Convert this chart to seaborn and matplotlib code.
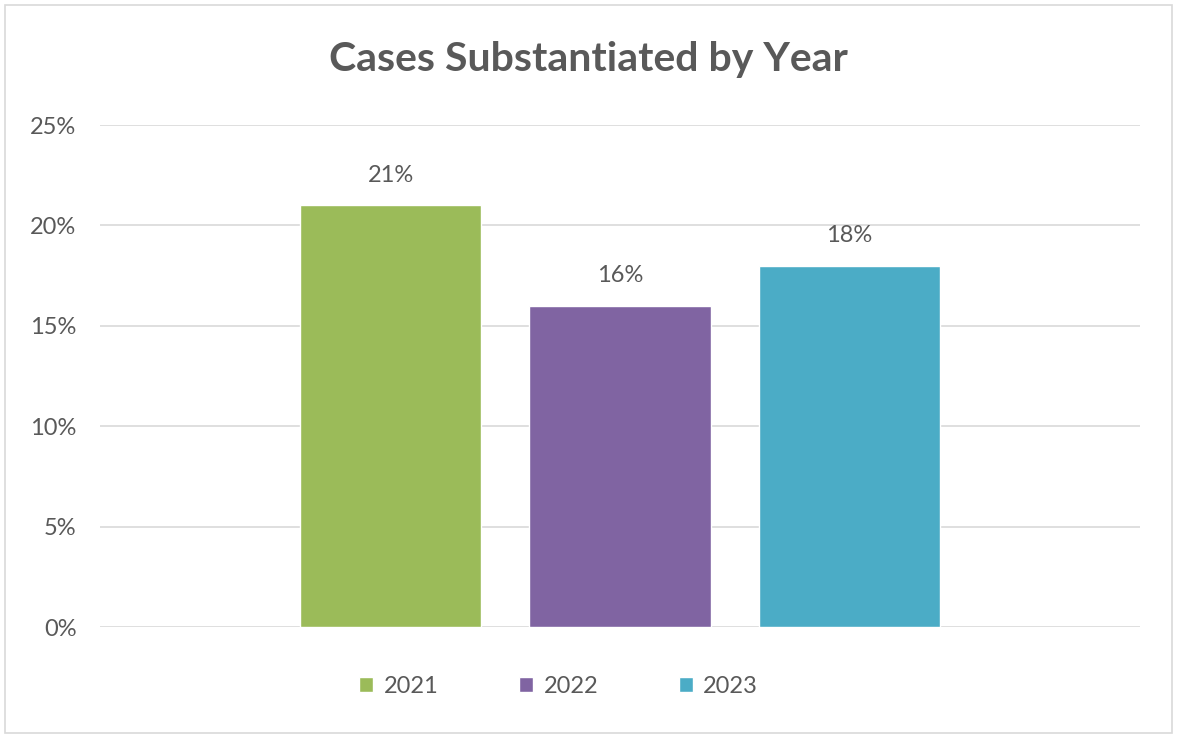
import matplotlib
matplotlib.use("Agg")
import matplotlib.pyplot as plt
import seaborn as sns
import pandas as pd
from matplotlib.patches import Rectangle
from matplotlib.ticker import PercentFormatter

categories = ["Cases"]
years = ["2021", "2022", "2023"]
values = [0.21, 0.16, 0.18]
colors = ["#9BBB59", "#8064A2", "#4BACC6"]
yticks = [0, 0.05, 0.10, 0.15, 0.20, 0.25]

df = pd.DataFrame({"cat": categories * 3, "year": years, "value": values})

sns.set_theme(style="white")
plt.rcParams["font.family"] = ["Lato", "DejaVu Sans"]
TXT = "#595959"

fig = plt.figure(figsize=(11.77, 7.36), dpi=100)
ax = fig.add_axes([100/1177, (736-627)/736, 1040/1177, (627-125)/736])

sns.barplot(data=df, x="cat", y="value", hue="year", palette=colors,
            width=0.6615, gap=0.209, ax=ax, legend=True, saturation=1)

ax.set_xlim(-0.5, 0.5)
ax.set_ylim(0, 0.25)
ax.set_yticks(yticks)
ax.yaxis.set_major_formatter(PercentFormatter(1.0, decimals=0))
ax.grid(axis="y", color="#D9D9D9", linewidth=1.2)
ax.set_axisbelow(True)
for s in ax.spines.values():
    s.set_visible(False)
ax.set_xticks([])
ax.set_xlabel("")
ax.set_ylabel("")
ax.tick_params(axis="y", length=0, pad=17, labelsize=17, labelcolor=TXT)

for cont in ax.containers:
    ax.bar_label(cont, labels=[f"{v*100:.0f}%" for v in cont.datavalues],
                 padding=14, fontsize=17, color=TXT)

leg = ax.legend(loc="upper center", bbox_to_anchor=(0.441, -0.055), ncol=3,
                frameon=False, fontsize=17, handlelength=0.6, handleheight=0.6,
                handletextpad=0.45, columnspacing=3.4, labelcolor=TXT)

fig.text(0.5, 1 - 60/736, "Cases Substantiated by Year", ha="center", va="center",
         fontsize=29.5, fontweight="bold", color=TXT)

fig.patches.append(Rectangle((5/1177, 3/736), 1167/1177, 728/736, transform=fig.transFigure,
                             fill=False, edgecolor="#D9D9D9", linewidth=1.2))

fig.savefig("out.png", dpi=100)
